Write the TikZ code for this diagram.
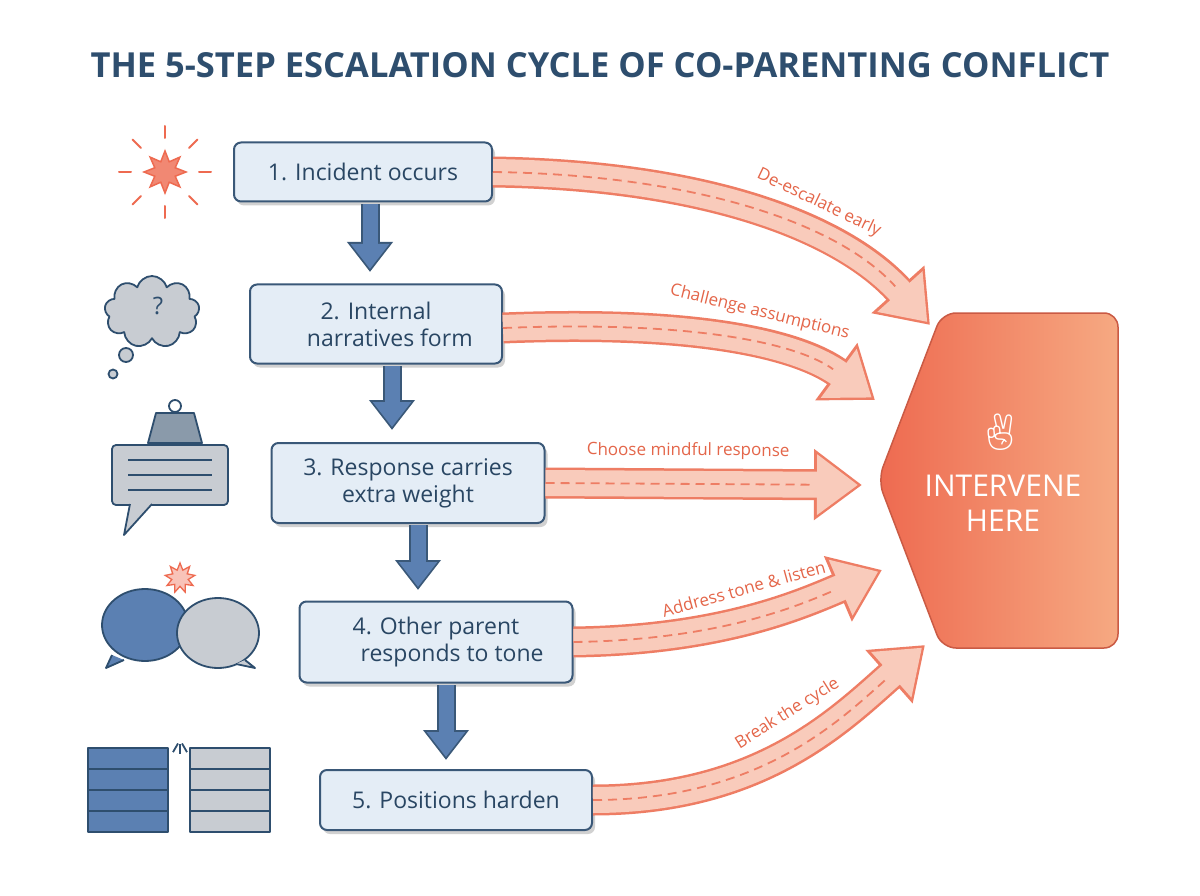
\documentclass[tikz,border=0pt]{standalone}
\usepackage{fontspec}
\setmainfont{Open Sans}
\newfontfamily\emojifont{Noto Emoji}
\usetikzlibrary{arrows.meta,shapes.geometric,shapes.symbols,calc}
\definecolor{titleblue}{HTML}{2E4E6E}
\definecolor{boxfill}{HTML}{E4EDF6}
\definecolor{boxline}{HTML}{3A5878}
\definecolor{dnblue}{HTML}{5B80B2}
\definecolor{salfill}{HTML}{F9CBBB}
\definecolor{salline}{HTML}{EE7D64}
\definecolor{salText}{HTML}{E4664A}
\definecolor{hexA}{HTML}{EE6A50}
\definecolor{hexB}{HTML}{F6A982}
\definecolor{icgray}{HTML}{C8CCD2}
\tikzset{
 stepbox/.style={draw=boxline,line width=2pt,fill=boxfill,rounded corners=7pt,align=center,
   font=\fontsize{23}{27}\selectfont,text=titleblue!90!black,
   preaction={fill=black,opacity=.18,transform canvas={shift={(3pt,-4pt)}}}},
 lbl/.style={font=\fontsize{17}{20}\selectfont,text=salText,sloped,above=20pt},
 ic/.style={draw=titleblue,line width=1.8pt,line join=round},
 dashc/.style={salline,line width=1.8pt,dash pattern=on 9pt off 6pt,shorten >=52pt},
}
\newcommand{\bigarrow}[1]{%
 \draw[salline,line width=31pt,-{Triangle[width=68pt,length=48pt]}] #1;
 \draw[salfill,line width=26pt,shorten >=4pt,-{Triangle[width=58pt,length=41pt]}] #1;
}
\newcommand{\dnarrow}[2]{%
 \draw[boxline,line width=19pt,-{Triangle[width=44pt,length=30pt]}] (#1) -- (#2);
 \draw[dnblue,line width=15pt,shorten >=3pt,-{Triangle[width=37pt,length=25pt]}] (#1) -- (#2);
}
\begin{document}
\begin{tikzpicture}[x=1pt,y=-1pt]
\useasboundingbox (0,0) rectangle (1200,896);
\fill[white] (0,0) rectangle (1200,896);
\node[font=\bfseries\fontsize{34.5}{40}\selectfont,text=titleblue] (title) at (600,65) {THE 5-STEP ESCALATION CYCLE OF CO-PARENTING CONFLICT};

% hexagon
\shade[left color=hexA,right color=hexB,draw=hexA!85!black,line width=1.5pt,rounded corners=14pt]
 (878,480)--(942,313)--(1118,313)--(1118,648)--(942,648)--cycle;
\node[text=white,font=\emojifont\fontsize{36}{40}\selectfont] (hand) at (1000,432) {✌};
\node[text=white,align=center,font=\fontsize{30}{35}\selectfont] (int) at (1003,503) {INTERVENE\\HERE};
\coordinate (t1) at (930,325);
\coordinate (t2) at (875,400);
\coordinate (t3) at (862,485);
\coordinate (t4) at (882,570);
\coordinate (t5) at (925,645);

% boxes
\node[stepbox,minimum width=258pt,minimum height=59pt] (b1) at (363,172) {1. Incident occurs};
\node[stepbox,minimum width=252pt,minimum height=79pt] (b2) at (376,324) {2. Internal\\\hspace*{1.2em}narratives form};
\node[stepbox,minimum width=273pt,minimum height=80pt] (b3) at (408,483) {3. Response carries\\extra weight};
\node[stepbox,minimum width=273pt,minimum height=81pt] (b4) at (436,642) {4. Other parent\\\hspace*{1.4em}responds to tone};
\node[stepbox,minimum width=272pt,minimum height=60pt] (b5) at (456,800) {5. Positions harden};

% down arrows
\coordinate (d1a) at (370,204); \coordinate (d1b) at (370,272);
\coordinate (d2a) at (392,366); \coordinate (d2b) at (392,430);
\coordinate (d3a) at (418,525); \coordinate (d3b) at (418,590);
\coordinate (d4a) at (446,685); \coordinate (d4b) at (446,760);
\dnarrow{d1a}{d1b}\dnarrow{d2a}{d2b}\dnarrow{d3a}{d3b}\dnarrow{d4a}{d4b}

% big arrows
\coordinate (s1) at (b1.east); \coordinate (s2) at ([yshift=-4pt]b2.east);
\coordinate (s3) at (b3.east); \coordinate (s4) at (b4.east); \coordinate (s5) at (b5.east);
\bigarrow{(s1) .. controls (700,175) and (840,225) .. (t1)}
\draw[dashc] (s1) .. controls (700,175) and (840,225) .. (t1) node[lbl,pos=0.62]{De-escalate early};
\bigarrow{(s2) .. controls (700,320) and (800,345) .. (t2)}
\draw[dashc] (s2) .. controls (700,320) and (800,345) .. (t2) node[lbl,pos=0.55]{Challenge assumptions};
\bigarrow{(s3) -- (t3)}
\draw[dashc] (s3) -- (t3) node[lbl,pos=0.45]{Choose mindful response};
\bigarrow{(s4) .. controls (720,640) and (800,605) .. (t4)}
\draw[dashc] (s4) .. controls (720,640) and (800,605) .. (t4) node[lbl,pos=0.5]{Address tone \& listen};
\bigarrow{(s5) .. controls (760,800) and (840,720) .. (t5)}
\draw[dashc] (s5) .. controls (760,800) and (840,720) .. (t5) node[lbl,pos=0.55]{Break the cycle};

% icon 1: starburst
\node[star,star points=8,star point ratio=1.9,minimum size=42pt,fill=hexA!80!white,draw=hexA,line width=1.5pt] (ic1) at (165,172) {};
\foreach \a in {0,45,...,315}
  \draw[hexA,line width=2pt,line cap=round] ($(ic1)+(\a:34pt)$) -- ($(ic1)+(\a:46pt)$);
% icon 2: thought cloud
\node[cloud,cloud puffs=9,aspect=1.4,minimum width=95pt,minimum height=72pt,fill=icgray,ic] (ic2) at (152,312) {};
\node[text=titleblue,font=\fontsize{24}{24}\selectfont] (q) at (158,306) {?};
\draw[ic,fill=icgray] (126,355) circle (7pt);
\draw[ic,fill=icgray] (113,374) circle (4.5pt);
% icon 3: speech with weight
\draw[ic,fill=icgray,rounded corners=4pt] (112,445) rectangle (228,505);
\draw[ic,fill=icgray,line join=round] (130,504)--(124,535)--(152,504);
\draw[ic,fill=icgray!60!titleblue] (148,443)--(156,413)--(194,413)--(202,443)--cycle;
\draw[ic] (175,406) circle (6pt);
\foreach \y in {460,475,490} \draw[titleblue,line width=1.8pt] (128,\y)--(212,\y);
% icon 4: two bubbles
\draw[ic,fill=dnblue] (145,625) ellipse (43pt and 36pt);
\draw[ic,fill=dnblue] (112,655)--(106,668)--(124,660);
\draw[ic,fill=icgray] (218,633) ellipse (41pt and 35pt);
\draw[ic,fill=icgray] (245,660)--(255,668)--(236,664);
\node[star,star points=9,star point ratio=1.8,minimum size=30pt,fill=hexA!40!white,draw=hexA,line width=1.3pt] (burst) at (180,578) {};
% icon 5: walls
\foreach \x/\c in {88/dnblue,190/icgray}{
 \draw[ic,fill=\c] (\x,748) rectangle ++(80,84);
 \foreach \yy in {769,790,811} \draw[titleblue,line width=1.2pt] (\x,\yy)--++(80,0);
}
\foreach \a in {60,90,120} \draw[titleblue,line width=1.8pt] ($(180,740)+(\a:-4pt)$) -- ($(180,740)+(\a:-14pt)$);
\end{tikzpicture}
\end{document}
